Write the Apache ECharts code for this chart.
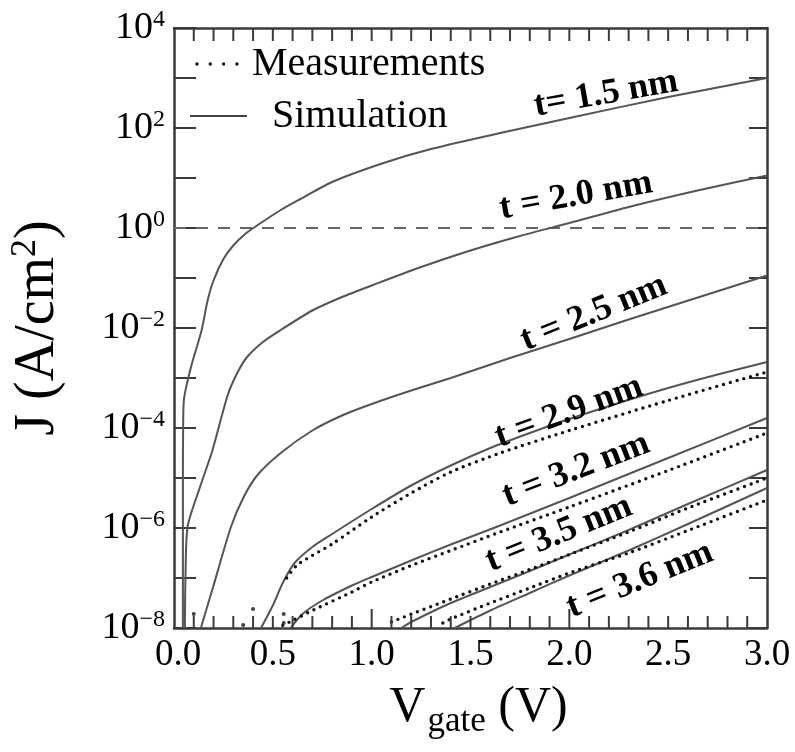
<!DOCTYPE html>
<html><head><meta charset="utf-8">
<script src="https://cdn.jsdelivr.net/npm/echarts@6/dist/echarts.min.js"></script>
<style>html,body{margin:0;padding:0;background:#fff}#c{width:795px;height:752px}</style>
</head><body><div id="c"></div>
<script>
// ---------------- data (V in volts, logJ = log10 of J in A/cm^2) ----------------
const xTickLabels = ['0.0','0.5','1.0','1.5','2.0','2.5','3.0'];
const xMinorTickV = [0.1,0.2,0.3,0.4,0.5,0.6,0.7,0.8,0.9,1.1,1.2,1.3,1.4,1.5,1.6,1.7,1.8,1.9,2.1,2.2,2.3,2.4,2.5,2.6,2.7,2.8,2.9];
const xMajorTickV = [1.0, 2.0];
const yTickExponents = [-8,-6,-4,-2,0,2,4];

const sim15_V    = [0.045,0.045,0.046,0.05,0.086,0.14,0.17,0.2,0.25,0.3,0.36,0.42,0.54,0.64,0.8,1.06,1.3,1.65,2.0,2.5,3.0];
const sim15_logJ = [-8,-5,-4.1,-3.44,-2.78,-2.04,-1.45,-1.05,-0.62,-0.35,-0.12,0.05,0.36,0.58,0.92,1.3,1.58,1.9,2.2,2.62,3.0];

const sim20_V    = [0.055,0.058,0.069,0.13,0.195,0.271,0.32,0.37,0.45,0.54,0.7,0.85,1.0,1.25,1.5,1.75,2.0,2.33,2.66,3.0];
const sim20_logJ = [-8,-7,-5.97,-5.2,-4.44,-3.35,-2.9,-2.58,-2.28,-2.04,-1.65,-1.38,-1.15,-0.78,-0.45,-0.16,0.1,0.45,0.76,1.05];

const sim25_V    = [0.136,0.2,0.288,0.35,0.42,0.54,0.7,0.85,1.0,1.2,1.4,1.7,2.0,2.3,2.61,3.0];
const sim25_logJ = [-8,-7.15,-5.98,-5.4,-4.95,-4.5,-4.05,-3.75,-3.52,-3.25,-3.0,-2.6,-2.22,-1.83,-1.44,-0.95];

const sim29_V    = [0.44,0.5,0.55,0.61,0.7,0.8,1.0,1.2,1.4,1.6,1.8,2.0,2.25,2.5,2.75,3.0];
const sim29_logJ = [-8,-7.55,-7.1,-6.7,-6.38,-6.12,-5.62,-5.15,-4.75,-4.4,-4.1,-3.82,-3.5,-3.2,-2.93,-2.68];
const meas29_V    = [0.57,0.62,0.7,0.8,1.0,1.2,1.4,1.65,2.0,2.5,3.0];
const meas29_logJ = [-7.0,-6.75,-6.55,-6.32,-5.78,-5.3,-4.88,-4.5,-4.05,-3.45,-2.88];

const sim32_V    = [0.59,0.65,0.75,0.9,1.0,1.2,1.4,1.65,2.0,2.5,3.0];
const sim32_logJ = [-8,-7.72,-7.45,-7.15,-6.98,-6.65,-6.33,-5.95,-5.4,-4.6,-3.8];
const meas32_V    = [0.55,0.6,0.7,0.9,1.0,1.2,1.4,1.65,2.0,2.5,3.0];
const meas32_logJ = [-7.95,-7.85,-7.65,-7.28,-7.08,-6.75,-6.45,-6.08,-5.58,-4.85,-4.1];

const sim35_V    = [1.15,1.2,1.4,1.6,1.8,2.0,2.3,2.6,3.0];
const sim35_logJ = [-8,-7.88,-7.5,-7.18,-6.86,-6.53,-6.04,-5.52,-4.84];
const meas35_V    = [1.1,1.15,1.4,1.6,1.8,2.0,2.3,2.6,3.0];
const meas35_logJ = [-7.88,-7.8,-7.42,-7.12,-6.83,-6.53,-6.08,-5.6,-5.0];

const sim36_V    = [1.42,1.6,1.8,2.0,2.3,2.6,3.0];
const sim36_logJ = [-8,-7.65,-7.3,-6.95,-6.45,-5.92,-5.2];
const meas36_V    = [1.36,1.4,1.6,1.8,2.0,2.3,2.6,3.0];
const meas36_logJ = [-7.9,-7.82,-7.5,-7.2,-6.9,-6.5,-6.05,-5.44];

const strayMeas_V    = [0.1,0.35,0.4,0.555,0.555];
const strayMeas_logJ = [-7.72,-7.94,-7.62,-7.72,-7.9];

const refLine_V = [0, 3];
const refLine_J = [1, 1];

const curveLabels = ['t= 1.5 nm','t = 2.0 nm','t = 2.5 nm','t = 2.9 nm','t = 3.2 nm','t = 3.5 nm','t = 3.6 nm'];
const legendNames = ['Measurements','Simulation'];

// ---------------- build ----------------
const FONT = 'Liberation Serif';
const J_MIN = 1e-8, J_MAX = 1e4;
function pts(V, L){ return V.map((v,i)=>[v, Math.pow(10, L[i])]); }

const simStyle = {color:'#555', width:2};
const measStyle = {color:'#111', width:3.4, type:[0,7], cap:'round'};

function simSeries(V,L){ return {type:'line', data:pts(V,L), showSymbol:false, smooth:0.25, lineStyle:simStyle, z:2, silent:true}; }
function measSeries(V,L){ return {type:'line', data:pts(V,L), showSymbol:false, smooth:0.25, lineStyle:measStyle, z:3, silent:true}; }

function yLabel(v){
  const e = Math.round(Math.log10(v));
  if (yTickExponents.indexOf(e) < 0) return '';
  return '{b|10}{s|' + String(e).replace('-', '\u2212') + '}';
}

const axisLineStyle = {color:'#3a3a3a', width:2.5};
const TICK_COLOR = '#3a3a3a';

const chart = echarts.init(document.getElementById('c'), null, {renderer:'canvas'});
const option = {
  animation:false,
  grid:{left:173, right:28, top:28, bottom:124},
  xAxis:[
    {type:'value', position:'bottom', min:0, max:3, interval:0.5,
     axisLine:{show:true, onZero:false, lineStyle:axisLineStyle},
     axisTick:{show:false}, splitLine:{show:false},
     axisLabel:{margin:9, color:'#000', fontFamily:FONT, fontSize:37,
       formatter:(v)=>{ const i = Math.round(v*2); const s = xTickLabels[i]; return i===0 ? '{f|'+s+'}' : s; },
       rich:{f:{fontFamily:FONT, fontSize:37, color:'#000', padding:[0,0,0,8]}}},
     name:'{v|V}{g|gate}{v| (V)}', nameLocation:'middle', nameGap:52,
     nameTextStyle:{padding:[0,0,0,16], rich:{
       v:{fontFamily:FONT, fontSize:50, color:'#000', lineHeight:56, verticalAlign:'top'},
       g:{fontFamily:FONT, fontSize:35, color:'#000', lineHeight:35, verticalAlign:'bottom', padding:[25,0,0,2]}}}},
    {type:'value', position:'top', min:0, max:3, interval:0.5,
     axisLine:{show:true, onZero:false, lineStyle:axisLineStyle},
     axisTick:{show:false}, axisLabel:{show:false}, splitLine:{show:false}}
  ],
  yAxis:[
    {type:'log', logBase:10, position:'left', min:J_MIN, max:J_MAX, interval:1,
     axisLine:{show:true, onZero:false, lineStyle:axisLineStyle},
     axisTick:{show:true, inside:true, length:22, lineStyle:{color:TICK_COLOR, width:2}},
     splitLine:{show:false}, minorTick:{show:false},
     axisLabel:{margin:9, formatter:yLabel, rich:{
       b:{fontFamily:FONT, fontSize:38, color:'#000', lineHeight:40},
       s:{fontFamily:FONT, fontSize:24, color:'#000', lineHeight:24, verticalAlign:'top'}}},
     name:'{a|J (A/cm}{s|2}{a|)}', nameLocation:'middle', nameRotate:90, nameGap:106,
     nameTextStyle:{rich:{
       a:{fontFamily:FONT, fontSize:56, color:'#000', lineHeight:60},
       s:{fontFamily:FONT, fontSize:36, color:'#000', lineHeight:36, verticalAlign:'top'}}}},
    {type:'log', logBase:10, position:'right', min:J_MIN, max:J_MAX, interval:1,
     axisLine:{show:true, onZero:false, lineStyle:axisLineStyle},
     axisTick:{show:true, inside:true, length:18, lineStyle:{color:TICK_COLOR, width:2}},
     axisLabel:{show:false}, splitLine:{show:false}}
  ],
  series:[
    {type:'line', data:refLine_V.map((v,i)=>[v, refLine_J[i]]), showSymbol:false,
     lineStyle:{color:'#666', width:2, type:[12,10]}, z:1, silent:true},
    simSeries(sim15_V, sim15_logJ),
    simSeries(sim20_V, sim20_logJ),
    simSeries(sim25_V, sim25_logJ),
    simSeries(sim29_V, sim29_logJ),
    simSeries(sim32_V, sim32_logJ),
    simSeries(sim35_V, sim35_logJ),
    simSeries(sim36_V, sim36_logJ),
    measSeries(meas29_V, meas29_logJ),
    measSeries(meas32_V, meas32_logJ),
    measSeries(meas35_V, meas35_logJ),
    measSeries(meas36_V, meas36_logJ),
    {type:'scatter', data:pts(strayMeas_V, strayMeas_logJ), symbolSize:4,
     itemStyle:{color:'#111'}, z:3, silent:true}
  ]
};
chart.setOption(option);

// curve labels and legend (annotations)
const labelPlacement = [
  {x:606, y:94,  rot:10},
  {x:576, y:196, rot:10},
  {x:594, y:313, rot:22},
  {x:569, y:412, rot:20},
  {x:576, y:470, rot:21},
  {x:559, y:534, rot:22},
  {x:640, y:580, rot:22}
];
const graphics = curveLabels.map((t,i)=>({
  type:'text', x:labelPlacement[i].x, y:labelPlacement[i].y,
  rotation: labelPlacement[i].rot*Math.PI/180,
  style:{text:t, fill:'#000', font:'bold 36px "Liberation Serif"', align:'center', verticalAlign:'middle'},
  z:10
}));
graphics.push(
  {type:'line', shape:{x1:197, y1:64, x2:240, y2:64},
   style:{stroke:'#111', lineWidth:3.4, lineDash:[0,13.3], lineCap:'round'}, z:10},
  {type:'text', x:252, y:64, style:{text:legendNames[0], fill:'#000', font:'40px "Liberation Serif"', align:'left', verticalAlign:'middle'}, z:10},
  {type:'line', shape:{x1:190, y1:116, x2:247, y2:116},
   style:{stroke:'#444', lineWidth:2}, z:10},
  {type:'text', x:272, y:116, style:{text:legendNames[1], fill:'#000', font:'40px "Liberation Serif"', align:'left', verticalAlign:'middle'}, z:10}
);

// x-axis tick marks on bottom and top frame, positioned through the chart's own scales
const finder = {seriesIndex:0};
xMinorTickV.concat(xMajorTickV).forEach(function(v){
  const major = xMajorTickV.indexOf(v) >= 0;
  const b = chart.convertToPixel(finder, [v, J_MIN]);
  const t = chart.convertToPixel(finder, [v, J_MAX]);
  if (!b || !t) return;
  graphics.push(
    {type:'line', shape:{x1:b[0], y1:b[1], x2:b[0], y2:b[1] - (major ? 19 : 12)}, style:{stroke:TICK_COLOR, lineWidth:2}, z:5},
    {type:'line', shape:{x1:t[0], y1:t[1], x2:t[0], y2:t[1] + 13}, style:{stroke:TICK_COLOR, lineWidth:2}, z:5}
  );
});
chart.setOption({graphic:graphics});
</script>
</body></html>
